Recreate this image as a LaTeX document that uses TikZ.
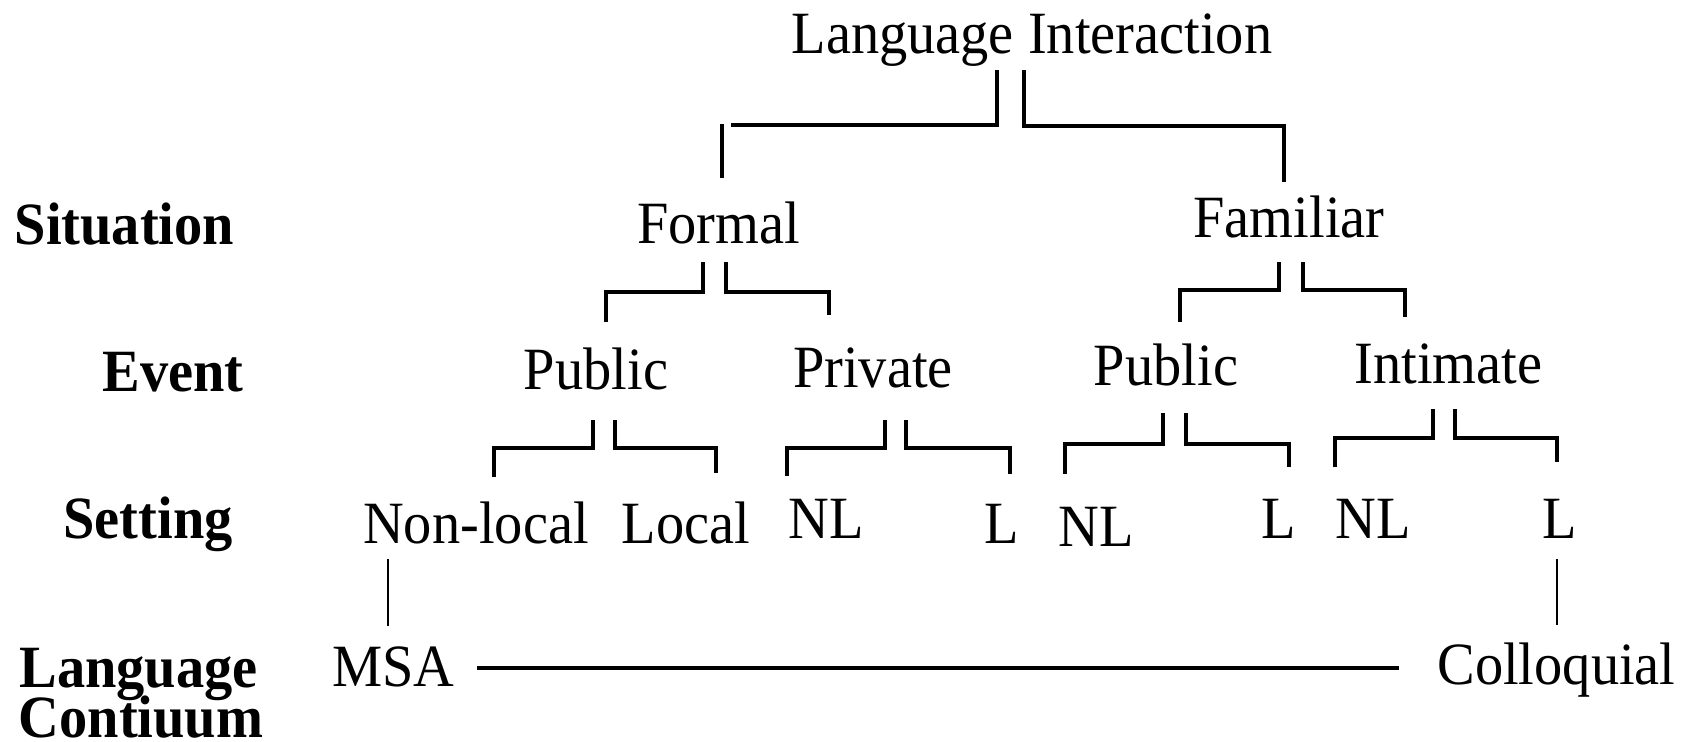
\documentclass[tikz,border=0pt]{standalone}
\usepackage{fontspec}
\setmainfont[FakeStretch=0.94]{Liberation Serif}
\usetikzlibrary{calc}
\tikzset{
  lbl/.style={font=\fontsize{30}{36}\selectfont, inner sep=0pt, anchor=base},
  hd/.style={font=\fontsize{30}{36}\selectfont\bfseries, inner sep=0pt, anchor=base},
  fork/.style={line width=1.6pt},
  link/.style={line width=1.2pt},
  cont/.style={line width=1.6pt}
}
\begin{document}
\begin{tikzpicture}[x=0.5pt,y=-0.5pt]
\useasboundingbox (0,0) rectangle (1694,741);
% row labels
\node[hd] (situation) at (124.5,244) {Situation};
\node[hd] (event) at (173,391) {Event};
\node[hd] (setting) at (148,538) {Setting};
\node[hd] (lang) at (138.5,687) {Language};
\node[hd] (contiuum) at (141,737) {Contiuum};
% tree
\node[lbl] (li) at (1032,53) {Language Interaction};
\node[lbl] (formal) at (718.5,243) {Formal};
\node[lbl] (familiar) at (1289,237) {Familiar};
\node[lbl] (pub1) at (596,389) {Public};
\node[lbl] (priv) at (873,387) {Private};
\node[lbl] (pub2) at (1166,385) {Public};
\node[lbl] (intim) at (1448.5,383) {Intimate};
\node[lbl] (nonlocal) at (476,543) {Non-local};
\node[lbl] (local) at (686,543) {Local};
\node[lbl] (nl1) at (826.5,538) {NL};
\node[lbl] (l1) at (1001.5,543) {L};
\node[lbl] (nl2) at (1096,546) {NL};
\node[lbl] (l2) at (1278.5,538) {L};
\node[lbl] (nl3) at (1373.5,538) {NL};
\node[lbl] (l3) at (1560,538) {L};
\node[lbl] (msa) at (393.5,686) {MSA};
\node[lbl] (coll) at (1556.5,684) {Colloquial};
% Language Interaction fork
\draw[fork] ($(li.base)+(-35,17)$) |- ($(li.base)+(-301,72)$);
\draw[fork] ($(li.base)+(-310,71)$) -- ($(formal.base)+(3.5,-65)$);
\draw[fork] ($(li.base)+(-8,17)$) |- ($(familiar.base)+(-5,-111)$) -- ($(familiar.base)+(-5,-55)$);
% Formal fork
\draw[fork] ($(formal.base)+(-15.5,19)$) |- ($(pub1.base)+(10,-97)$) -- ($(pub1.base)+(10,-67)$);
\draw[fork] ($(formal.base)+(7.5,19)$) |- ($(priv.base)+(-44,-95)$) -- ($(priv.base)+(-44,-72)$);
% Familiar fork
\draw[fork] ($(familiar.base)+(-10,25)$) |- ($(pub2.base)+(14,-95)$) -- ($(pub2.base)+(14,-63)$);
\draw[fork] ($(familiar.base)+(14,25)$) |- ($(intim.base)+(-43.5,-93)$) -- ($(intim.base)+(-43.5,-66)$);
% Public (formal) fork
\draw[fork] ($(pub1.base)+(-3,31)$) |- ($(nonlocal.base)+(18,-95)$) -- ($(nonlocal.base)+(18,-66)$);
\draw[fork] ($(pub1.base)+(19,31)$) |- ($(local.base)+(30,-95)$) -- ($(local.base)+(30,-70)$);
% Private fork
\draw[fork] ($(priv.base)+(12,33)$) |- ($(nl1.base)+(-39.5,-90)$) -- ($(nl1.base)+(-39.5,-62)$);
\draw[fork] ($(priv.base)+(33,33)$) |- ($(l1.base)+(8.5,-95)$) -- ($(l1.base)+(8.5,-69)$);
% Public (familiar) fork
\draw[fork] ($(pub2.base)+(-3,28)$) |- ($(nl2.base)+(-31,-102)$) -- ($(nl2.base)+(-31,-72)$);
\draw[fork] ($(pub2.base)+(20,28)$) |- ($(l2.base)+(10.5,-94)$) -- ($(l2.base)+(10.5,-71)$);
% Intimate fork
\draw[fork] ($(intim.base)+(-15.5,26)$) |- ($(nl3.base)+(-38.5,-100)$) -- ($(nl3.base)+(-38.5,-71)$);
\draw[fork] ($(intim.base)+(6.5,26)$) |- ($(l3.base)+(-3,-100)$) -- ($(l3.base)+(-3,-76)$);
% links to the continuum
\draw[link] ($(nonlocal.base)+(-88,16)$) -- ($(msa.base)+(-5.5,-60)$);
\draw[link] ($(l3.base)+(-3,21)$) -- ($(coll.base)+(0.5,-59)$);
\draw[cont] ($(msa.base)+(83.5,-18)$) -- ($(coll.base)+(-157.5,-16)$);
\end{tikzpicture}
\end{document}
